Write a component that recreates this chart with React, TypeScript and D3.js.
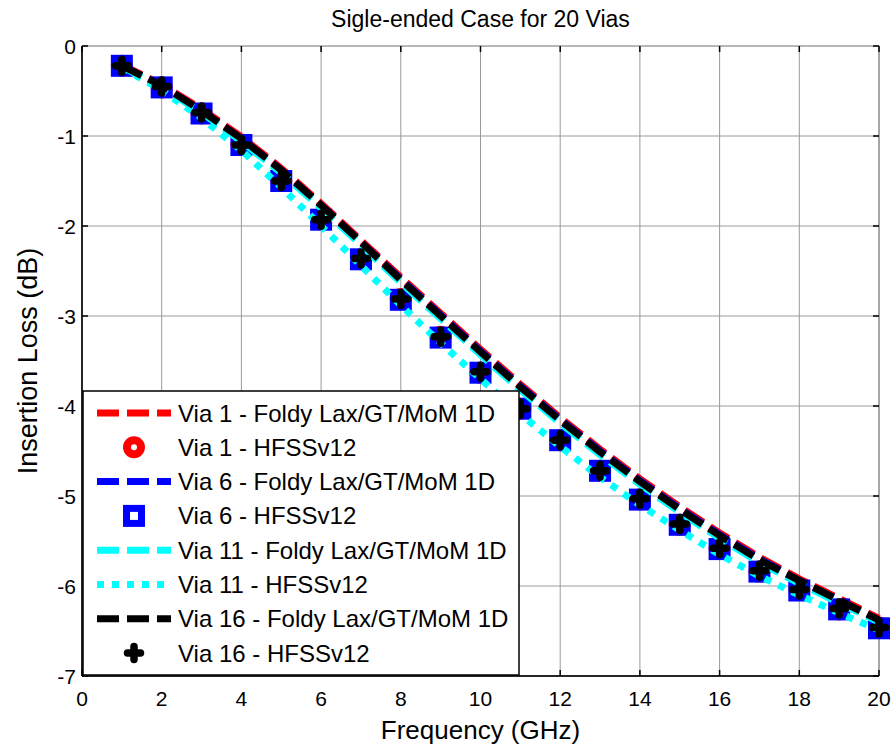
import React from "react";
import * as d3 from "d3";

const freqs = [1, 2, 3, 4, 5, 6, 7, 8, 9, 10, 11, 12, 13, 14, 15, 16, 17, 18, 19, 20];

const via1Foldy = [-0.21, -0.43, -0.7, -1.01, -1.36, -1.75, -2.16, -2.57, -2.97, -3.37, -3.76, -4.13, -4.48, -4.81, -5.12, -5.41, -5.68, -5.92, -6.14, -6.36];
const via1Hfss = [-0.22, -0.46, -0.75, -1.1, -1.5, -1.93, -2.37, -2.81, -3.23, -3.63, -4.03, -4.38, -4.72, -5.04, -5.32, -5.59, -5.84, -6.04, -6.26, -6.46];
const via6Foldy = [-0.22, -0.44, -0.72, -1.03, -1.38, -1.77, -2.18, -2.59, -2.99, -3.39, -3.78, -4.15, -4.5, -4.83, -5.14, -5.43, -5.7, -5.94, -6.16, -6.38];
const via6Hfss = [-0.22, -0.46, -0.75, -1.1, -1.5, -1.93, -2.37, -2.82, -3.24, -3.63, -4.03, -4.38, -4.72, -5.04, -5.32, -5.59, -5.84, -6.05, -6.26, -6.47];
const via11Foldy = [-0.23, -0.46, -0.74, -1.06, -1.41, -1.8, -2.21, -2.63, -3.03, -3.43, -3.82, -4.19, -4.54, -4.87, -5.18, -5.47, -5.74, -5.97, -6.19, -6.4];
const via11Hfss = [-0.24, -0.49, -0.8, -1.16, -1.57, -2.0, -2.44, -2.88, -3.3, -3.7, -4.09, -4.45, -4.79, -5.1, -5.38, -5.65, -5.89, -6.1, -6.3, -6.49];
const via16Foldy = [-0.22, -0.44, -0.72, -1.03, -1.38, -1.77, -2.18, -2.6, -3.0, -3.4, -3.79, -4.16, -4.51, -4.84, -5.15, -5.44, -5.71, -5.94, -6.16, -6.38];
const via16Hfss = [-0.22, -0.45, -0.74, -1.1, -1.5, -1.93, -2.36, -2.81, -3.23, -3.62, -4.03, -4.38, -4.72, -5.03, -5.31, -5.58, -5.83, -6.04, -6.25, -6.46];

const xTicks = [0, 2, 4, 6, 8, 10, 12, 14, 16, 18, 20];
const yTicks = [0, -1, -2, -3, -4, -5, -6, -7];

const titleText = "Sigle-ended Case for 20 Vias";
const xLabel = "Frequency (GHz)";
const yLabel = "Insertion Loss (dB)";

const legendLabels = [
  "Via 1 - Foldy Lax/GT/MoM 1D",
  "Via 1 - HFSSv12",
  "Via 6 - Foldy Lax/GT/MoM 1D",
  "Via 6 - HFSSv12",
  "Via 11 - Foldy Lax/GT/MoM 1D",
  "Via 11 - HFSSv12",
  "Via 16 - Foldy Lax/GT/MoM 1D",
  "Via 16 - HFSSv12",
];

const FONT = "'Liberation Sans', Arial, Helvetica, sans-serif";

type Kind = "dash" | "dot" | "circle" | "square" | "plus";
type Series = { values: number[]; color: string; kind: Kind };

const seriesList: Series[] = [
  { values: via1Foldy, color: "#ff0000", kind: "dash" },
  { values: via1Hfss, color: "#ff0000", kind: "circle" },
  { values: via6Foldy, color: "#0000ff", kind: "dash" },
  { values: via6Hfss, color: "#0000ff", kind: "square" },
  { values: via11Foldy, color: "#00ffff", kind: "dash" },
  { values: via11Hfss, color: "#00ffff", kind: "dot" },
  { values: via16Foldy, color: "#000000", kind: "dash" },
  { values: via16Hfss, color: "#000000", kind: "plus" },
];

const W = 894;
const H = 751;
const L = 82, R = 879, T = 46, B = 676;

function Marker({ kind, color, x, y }: { kind: Kind; color: string; x: number; y: number }) {
  if (kind === "circle") {
    return <circle cx={x} cy={y} r={7} fill="none" stroke={color} strokeWidth={8} />;
  }
  if (kind === "square") {
    return <rect x={x - 7.5} y={y - 7.5} width={15} height={15} fill="none" stroke={color} strokeWidth={7} />;
  }
  if (kind === "plus") {
    return (
      <path
        d={`M${x - 6.5},${y}H${x + 6.5}M${x},${y - 6.5}V${y + 6.5}`}
        stroke={color}
        strokeWidth={7.5}
        strokeLinecap="round"
        fill="none"
      />
    );
  }
  return null;
}

export default function App() {
  const x = d3.scaleLinear().domain([0, 20]).range([L, R]);
  const y = d3.scaleLinear().domain([-7, 0]).range([B, T]);
  const line = d3
    .line<number>()
    .x((_, i) => x(freqs[i]))
    .y((v) => y(v));

  const legX = 83, legY = 391, legW = 436, legH = 284;
  const rowY0 = 413, rowDy = 34.3;

  return (
    <svg
      width={W}
      height={H}
      style={{ position: "absolute", left: 0, top: 0, background: "#fff" }}
      fontFamily={FONT}
    >
      <rect x={0} y={0} width={W} height={H} fill="#fff" />
      {/* grid */}
      {xTicks.map((t) => (
        <line key={"gx" + t} x1={x(t)} x2={x(t)} y1={T} y2={B} stroke="#9a9a9a" strokeWidth={1} />
      ))}
      {yTicks.map((t) => (
        <line key={"gy" + t} x1={L} x2={R} y1={y(t)} y2={y(t)} stroke="#9a9a9a" strokeWidth={1} />
      ))}
      {/* box */}
      <line x1={L} x2={R} y1={T} y2={T} stroke="#b0b0b0" strokeWidth={1.5} />
      <line x1={R} x2={R} y1={T} y2={B} stroke="#9a9a9a" strokeWidth={1.5} />
      <line x1={L} x2={R} y1={B} y2={B} stroke="#262626" strokeWidth={2} />
      <line x1={L} x2={L} y1={T} y2={B} stroke="#262626" strokeWidth={2} />
      {/* ticks */}
      {xTicks.map((t) => (
        <g key={"tx" + t}>
          <line x1={x(t)} x2={x(t)} y1={B} y2={B - 6} stroke="#000" strokeWidth={1.5} />
          <line x1={x(t)} x2={x(t)} y1={T} y2={T + 6} stroke="#000" strokeWidth={1.5} />
          <text x={x(t)} y={706} textAnchor="middle" fontSize={21} fill="#000">
            {t}
          </text>
        </g>
      ))}
      {yTicks.map((t) => (
        <g key={"ty" + t}>
          <line x1={L} x2={L + 6} y1={y(t)} y2={y(t)} stroke="#000" strokeWidth={1.5} />
          <line x1={R} x2={R - 6} y1={y(t)} y2={y(t)} stroke="#000" strokeWidth={1.5} />
          <text x={L - 6} y={y(t) + 7.5} textAnchor="end" fontSize={21} fill="#000">
            {t}
          </text>
        </g>
      ))}
      {/* series */}
      {seriesList.map((s, si) => {
        if (s.kind === "dash" || s.kind === "dot") {
          return (
            <path
              key={"s" + si}
              d={line(s.values) || ""}
              fill="none"
              stroke={s.color}
              strokeWidth={7}
              strokeDasharray={s.kind === "dash" ? "22,8" : "7,8"}
            />
          );
        }
        return (
          <g key={"s" + si}>
            {s.values.map((v, i) => (
              <Marker key={i} kind={s.kind} color={s.color} x={x(freqs[i])} y={y(v)} />
            ))}
          </g>
        );
      })}
      {/* title and labels */}
      <text x={(L + R) / 2} y={27} textAnchor="middle" fontSize={23} fill="#000">
        {titleText}
      </text>
      <text x={(L + R) / 2} y={739} textAnchor="middle" fontSize={26} fill="#000">
        {xLabel}
      </text>
      <text
        transform={`translate(37,${(T + B) / 2}) rotate(-90)`}
        textAnchor="middle"
        fontSize={27}
        fill="#000"
      >
        {yLabel}
      </text>
      {/* legend */}
      <rect x={legX} y={legY} width={legW} height={legH} fill="#fff" stroke="#000" strokeWidth={1.5} />
      {seriesList.map((s, i) => {
        const cy = rowY0 + i * rowDy;
        return (
          <g key={"lg" + i}>
            {s.kind === "dash" || s.kind === "dot" ? (
              <line
                x1={97}
                x2={171}
                y1={cy}
                y2={cy}
                stroke={s.color}
                strokeWidth={7}
                strokeDasharray={s.kind === "dash" ? "22,8" : "7,8"}
              />
            ) : (
              <Marker kind={s.kind} color={s.color} x={134} y={cy} />
            )}
            <text x={178} y={cy + 8.5} fontSize={24} fill="#000">
              {legendLabels[i]}
            </text>
          </g>
        );
      })}
    </svg>
  );
}
